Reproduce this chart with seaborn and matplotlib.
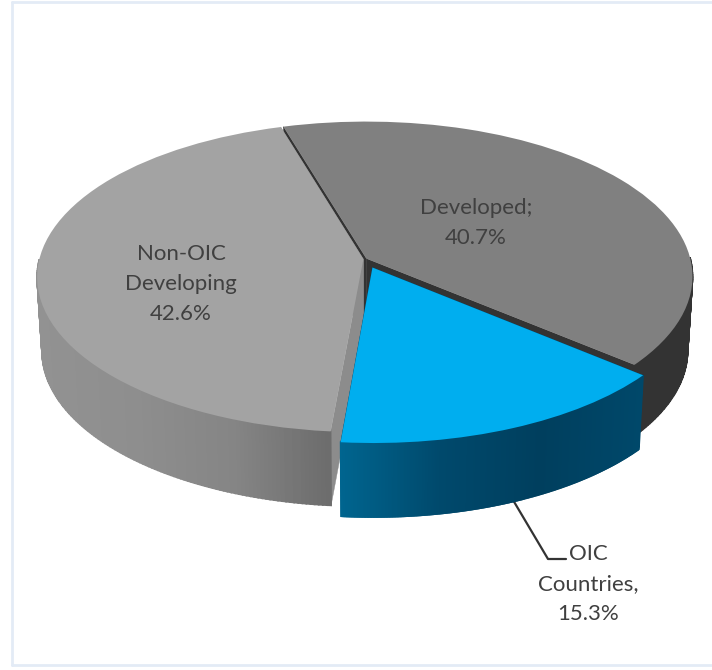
import matplotlib
matplotlib.use("Agg")
import matplotlib.pyplot as plt
import numpy as np
import seaborn as sns
from matplotlib.transforms import Transform

# --- data ---
categories = ["Developed", "OIC Countries", "Non-OIC Developing"]
shares = [40.7, 15.3, 42.6]
# printed shares stop at 98.6; in the picture the grey slice takes up the rest
slice_sizes = [40.7, 15.3, 44.0]
explode = [0.005, 0.06, 0.005]

# --- look of the 3D pie, all in pixels of the 712x670 picture ---
CX, CY = 365, 259
RX, RY = 324, 153
PERSP = 0.116
DEPTH = 74
SHRINK = 0.985

top_colors = sns.color_palette(["#808080", "#00aeef", "#a3a3a3"])
wall_cmaps = [
    sns.blend_palette(["#333333", "#333333"], as_cmap=True),
    sns.blend_palette(["#00658f", "#00496c", "#003f5e", "#00486a"], as_cmap=True),
    sns.blend_palette(["#929292", "#8e8e8e", "#858585", "#6c6c6c"], as_cmap=True),
]
cut_colors = ["#333333", "#00496c", "#8c8c8c"]
TEXT = "#404040"


def project(u, v):
    w = 1 + PERSP * np.asarray(v)
    return CX + RX * np.asarray(u) / w, CY - RY * np.asarray(v) / w


def drop(x, y):
    # same point on the bottom face of the disc
    return CX + (x - CX) * SHRINK, y + DEPTH


class Tilt(Transform):
    input_dims = 2
    output_dims = 2
    is_separable = False

    def transform_non_affine(self, values):
        x, y = project(values[:, 0], values[:, 1])
        return np.column_stack([x, y])


sns.set_theme(style="white")
plt.rcParams["font.family"] = ["Lato", "DejaVu Sans"]

fig = plt.figure(figsize=(7.12, 6.7), dpi=100)
ax = fig.add_axes([0, 0, 1, 1])

wedges, _ = ax.pie(slice_sizes, explode=explode, colors=top_colors, startangle=106.5,
                   counterclock=False, radius=1)
ax.set_aspect("auto")
ax.set_xlim(0, 712)
ax.set_ylim(670, 0)
ax.axis("off")

# back piece first, the blue slice last
for order, i in enumerate([0, 2, 1]):
    w = wedges[i]
    base = 3 * order + 2
    w.set_transform(Tilt() + ax.transData)
    w.set_zorder(base + 2)
    w.set_linewidth(0)

    c0, c1 = w.center
    ang = np.radians(np.linspace(w.theta1, w.theta2, 240))
    x, y = project(c0 + np.cos(ang), c1 + np.sin(ang))
    xb, yb = drop(x, y)

    # radial cut faces
    ax_, ay_ = project(c0, c1)
    bx_, by_ = drop(ax_, ay_)
    for j in [0, -1]:
        ax.fill([ax_, x[j], xb[j], bx_], [ay_, y[j], yb[j], by_],
                color=cut_colors[i], lw=0.3, zorder=base)

    # outer wall, strip by strip so the shading follows x
    # only the front of the rim, or the back strips bleed round the top face
    front = np.sin(ang) < 0
    lo, hi = x[front].min(), x[front].max()
    for j in range(len(ang) - 1):
        if not front[j]:
            continue
        t = np.clip((x[j] - lo) / (hi - lo), 0, 1)
        ax.fill([x[j], x[j + 1], xb[j + 1], xb[j]], [y[j], y[j + 1], yb[j + 1], yb[j]],
                facecolor=wall_cmaps[i](t), edgecolor=wall_cmaps[i](t), lw=1.2,
                zorder=base + 1)

# --- labels ---
fs = 16
ax.text(476, 223, f"Developed;\n{shares[0]}%", ha="center", va="center", color=TEXT,
        fontsize=fs, linespacing=1.6, zorder=20)
ax.text(181, 284, f"Non-OIC\nDeveloping\n{shares[2]}%", ha="center", va="center", color=TEXT,
        fontsize=fs, linespacing=1.6, zorder=20)
ax.text(588, 584, f"OIC\nCountries,\n{shares[1]}%", ha="center", va="center", color=TEXT,
        fontsize=fs, linespacing=1.6, zorder=20)
ax.plot([513, 548, 566], [500, 559, 559], color="#333333", lw=1.6, zorder=1)

# --- thin frame of the original chart area ---
for xs, ys in [([12, 12], [1.5, 665]), ([12, 712], [1.5, 1.5]), ([12, 712], [665, 665])]:
    ax.plot(xs, ys, color="#e3ebf6", lw=2, zorder=0)

fig.savefig("out.png", dpi=100)
